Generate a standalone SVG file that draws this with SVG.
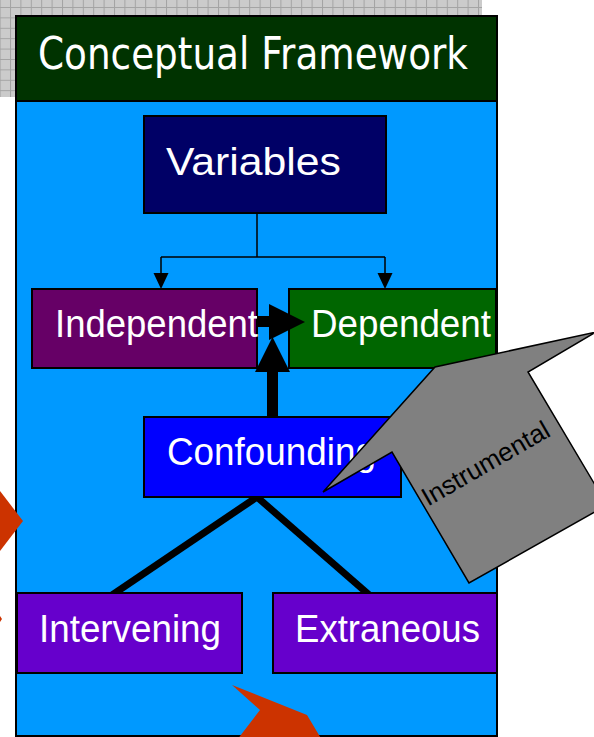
<svg xmlns="http://www.w3.org/2000/svg" width="594" height="737" viewBox="0 0 594 737">
  <defs>
    <pattern id="grid" x="10" y="7" width="10.4" height="10.4" patternUnits="userSpaceOnUse">
      <rect width="10.4" height="10.4" fill="#cbcbcb"/>
      <path d="M0.5 0 V10.4 M0 0.5 H10.4" stroke="#a3a3a3" stroke-width="1"/>
    </pattern>
  </defs>
  <style>
    .box { stroke: #000; stroke-width: 2; }
    .lbl { font-family: "Liberation Sans", Arial, sans-serif; font-size: 38px; fill: #fff; }
    .wire { fill: none; stroke: #000; stroke-width: 1.5; }
    .solid { fill: #000; stroke: none; }
    .red { fill: #cc3300; }
  </style>

  <!-- white page and grid backdrop -->
  <rect width="594" height="737" fill="#fff"/>
  <rect x="0" y="0" width="482" height="97" fill="url(#grid)"/>

  <!-- main panel -->
  <rect x="16" y="101" width="481" height="635" fill="#0099ff" stroke="#000" stroke-width="2"/>

  <g id="title">
    <rect class="box" x="16" y="16" width="481" height="85" fill="#003300"/>
    <text x="38" y="69" font-family="'DejaVu Sans', Verdana, sans-serif" font-size="44" fill="#fff" textLength="430" lengthAdjust="spacingAndGlyphs">Conceptual Framework</text>
  </g>

  <g id="variables">
    <rect class="box" x="144" y="116" width="242" height="97" fill="#000066"/>
    <text class="lbl" x="166" y="175" font-size="43" textLength="175" lengthAdjust="spacingAndGlyphs">Variables</text>
  </g>

  <g id="independent">
    <rect class="box" x="32" y="289" width="225" height="79" fill="#660066"/>
    <text class="lbl" x="55" y="337" textLength="203" lengthAdjust="spacingAndGlyphs">Independent</text>
  </g>

  <g id="dependent">
    <rect class="box" x="289" y="289" width="207" height="79" fill="#006600"/>
    <text class="lbl" x="311" y="337" textLength="180" lengthAdjust="spacingAndGlyphs">Dependent</text>
  </g>

  <g id="confounding">
    <rect class="box" x="144" y="417" width="257" height="80" fill="#0000ff"/>
    <text class="lbl" x="167" y="465" textLength="209" lengthAdjust="spacingAndGlyphs">Confounding</text>
  </g>

  <g id="intervening">
    <rect class="box" x="17" y="593" width="225" height="80" fill="#6600cc"/>
    <text class="lbl" x="39" y="642" textLength="182" lengthAdjust="spacingAndGlyphs">Intervening</text>
  </g>

  <g id="extraneous">
    <rect class="box" x="273" y="593" width="224" height="80" fill="#6600cc"/>
    <text class="lbl" x="295" y="642" textLength="185" lengthAdjust="spacingAndGlyphs">Extraneous</text>
  </g>

  <g id="connectors">
    <!-- Variables splits to Independent and Dependent -->
    <path class="wire" d="M257 213 V257 M161 257 H385 M161 257 V274 M385 257 V274"/>
    <polygon class="solid" points="153.5,273 168.5,273 161,289"/>
    <polygon class="solid" points="377.5,273 392.5,273 385,289"/>
    <!-- Independent to Dependent -->
    <rect class="solid" x="257" y="316" width="13" height="11"/>
    <polygon class="solid" points="269,304 305,322 269,340"/>
    <!-- Confounding up to Dependent -->
    <rect class="solid" x="267" y="371" width="11" height="46"/>
    <polygon class="solid" points="255,372 290,372 272.5,337"/>
    <!-- Confounding down to Intervening and Extraneous -->
    <polygon class="solid" points="250.7,497 263.3,497 121.3,593 108.7,593"/>
    <polygon class="solid" points="251.7,497 262.3,497 372.3,593 361.7,593"/>
  </g>

  <g id="instrumental">
    <polygon points="323,492 435,367 596,332 528,372 607,505 469,583 392,452" fill="#808080" stroke="#000" stroke-width="1.5" stroke-linejoin="miter"/>
    <text x="490" y="471" transform="rotate(-30 490 471)" text-anchor="middle" font-family="'Liberation Sans', Arial, sans-serif" font-size="26" fill="#000">Instrumental</text>
  </g>

  <!-- red arrow pieces at the edges -->
  <polygon class="red" points="0,491 23,521 0,551"/>
  <polygon class="red" points="0,616 2,619 0,622"/>
  <polygon class="red" points="232,685 307,715 322,740 237,740 260,710"/>
</svg>
